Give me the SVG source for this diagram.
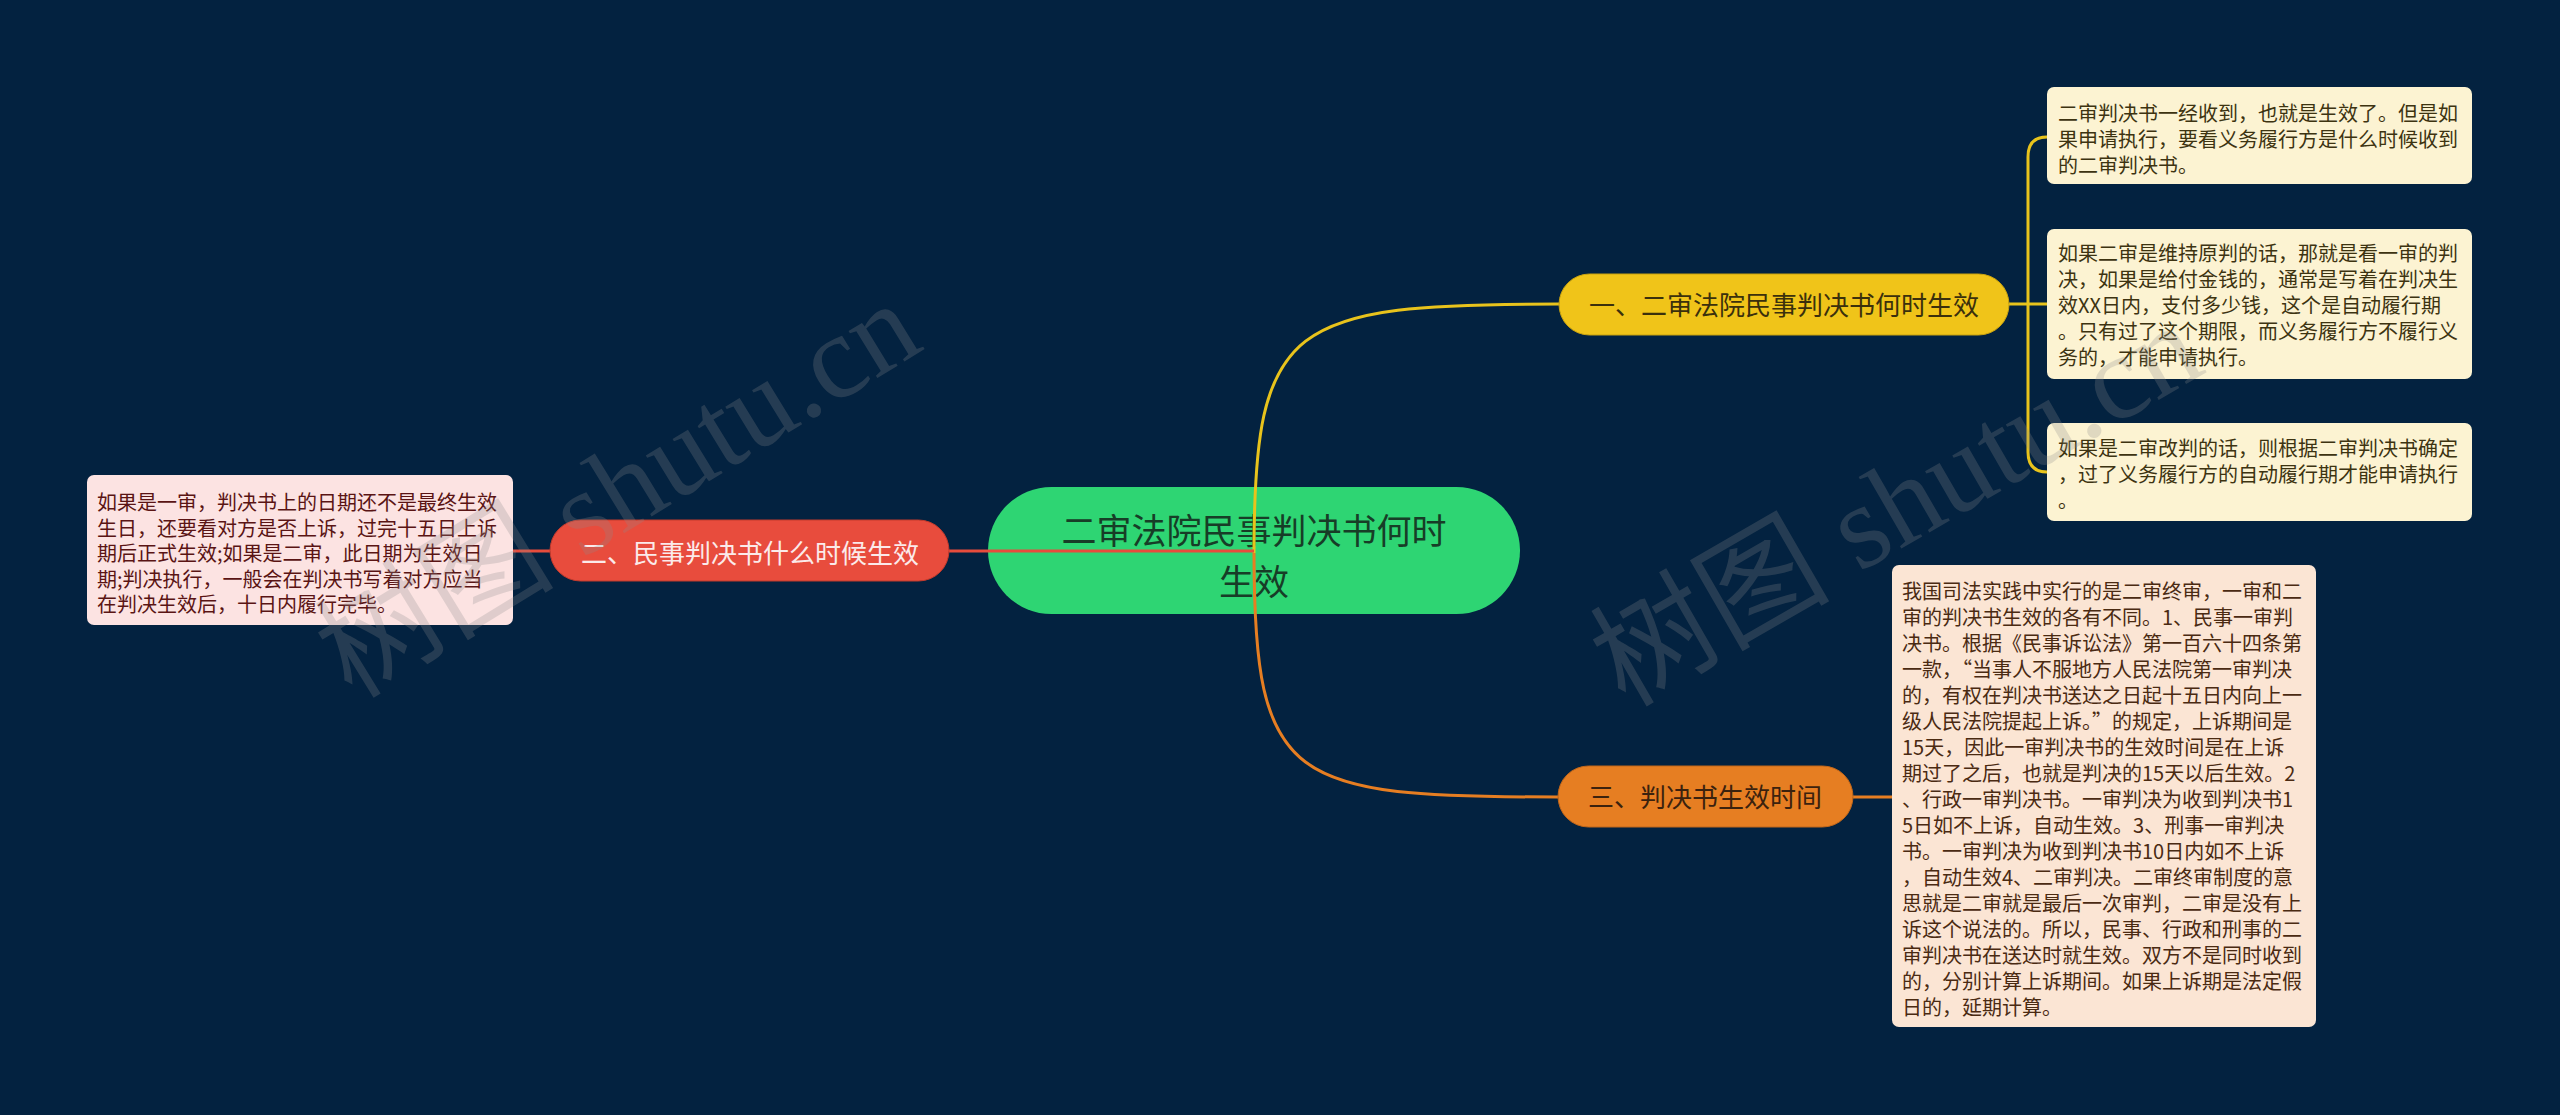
<svg xmlns="http://www.w3.org/2000/svg" width="2560" height="1115" viewBox="0 0 2560 1115">
<style>
.cjk{font-family:"Noto Sans CJK SC","Noto Sans",sans-serif;}
.root{font-size:35px;fill:#173d27;}
.br{font-size:26px;}
.leaf{font-size:20px;}
.conn{fill:none;stroke-width:3;}
.wm{font-family:"Liberation Serif","Noto Sans CJK SC",serif;font-size:120px;fill:#8c8c8c;opacity:0.25;}
</style>
<rect width="2560" height="1115" fill="#032240"/>
<g id="root">
<rect x="988" y="487" width="532" height="127" rx="63.5" fill="#2ed573"/>
<text class="cjk root" text-anchor="middle" dominant-baseline="central"><tspan x="1254" y="528">二审法院民事判决书何时</tspan><tspan x="1254" y="579">生效</tspan></text>
</g>
<g id="connectors">
<path class="conn" stroke="#e8c31c" d="M1254 553 C1254 320 1290 304 1559 304"/>
<path class="conn" stroke="#e67e22" d="M1254 553 C1254 785 1290 797 1558 797"/>
<path class="conn" stroke="#e74c3c" d="M949 551 H1254"/>
<path class="conn" stroke="#e74c3c" d="M513 551 H550"/>
<path class="conn" stroke="#e8c31c" d="M2009 304 H2047 M2028 304 V157 Q2028 137 2047 137 M2028 304 V452 Q2028 472 2047 472"/>
<path class="conn" stroke="#e67e22" d="M1853 797 H1892"/>
</g>
<g id="branch1">
<rect x="1559" y="274" width="450" height="61" rx="30.5" fill="#f0c419" stroke="#c9a20f" stroke-width="1"/>
<text class="cjk br" x="1784" y="303" text-anchor="middle" dominant-baseline="central" fill="#3b300c">一、二审法院民事判决书何时生效</text>
</g>
<g id="branch2">
<rect x="550" y="520" width="399" height="61" rx="30.5" fill="#e84c3d" stroke="#c23a2c" stroke-width="1"/>
<text class="cjk br" x="750" y="551" text-anchor="middle" dominant-baseline="central" fill="#fbeaea">二、民事判决书什么时候生效</text>
</g>
<g id="branch3">
<rect x="1558" y="766" width="295" height="61" rx="30.5" fill="#e67e22" stroke="#c0661a" stroke-width="1"/>
<text class="cjk br" x="1705" y="795" text-anchor="middle" dominant-baseline="central" fill="#3b220e">三、判决书生效时间</text>
</g>
<g id="leaf1a">
<rect x="2047" y="87" width="425" height="97" rx="7" fill="#fcf3d2"/>
<text class="cjk leaf" dominant-baseline="central" fill="#3d3311"><tspan x="2058" y="112">二审判决书一经收到，也就是生效了。但是如</tspan><tspan x="2058" y="138">果申请执行，要看义务履行方是什么时候收到</tspan><tspan x="2058" y="164">的二审判决书。</tspan></text>
</g>
<g id="leaf1b">
<rect x="2047" y="229" width="425" height="150" rx="7" fill="#fcf3d2"/>
<text class="cjk leaf" dominant-baseline="central" fill="#3d3311"><tspan x="2058" y="252">如果二审是维持原判的话，那就是看一审的判</tspan><tspan x="2058" y="278">决，如果是给付金钱的，通常是写着在判决生</tspan><tspan x="2058" y="304">效XX日内，支付多少钱，这个是自动履行期</tspan><tspan x="2058" y="330">。只有过了这个期限，而义务履行方不履行义</tspan><tspan x="2058" y="356">务的，才能申请执行。</tspan></text>
</g>
<g id="leaf1c">
<rect x="2047" y="423" width="425" height="98" rx="7" fill="#fcf3d2"/>
<text class="cjk leaf" dominant-baseline="central" fill="#3d3311"><tspan x="2058" y="447">如果是二审改判的话，则根据二审判决书确定</tspan><tspan x="2058" y="473">，过了义务履行方的自动履行期才能申请执行</tspan><tspan x="2058" y="499">。</tspan></text>
</g>
<g id="leaf2">
<rect x="87" y="475" width="426" height="150" rx="7" fill="#fce3e2"/>
<text class="cjk leaf" dominant-baseline="central" fill="#5a1414"><tspan x="97" y="501">如果是一审，判决书上的日期还不是最终生效</tspan><tspan x="97" y="526.5">生日，还要看对方是否上诉，过完十五日上诉</tspan><tspan x="97" y="552">期后正式生效;如果是二审，此日期为生效日</tspan><tspan x="97" y="577.5">期;判决执行，一般会在判决书写着对方应当</tspan><tspan x="97" y="603">在判决生效后，十日内履行完毕。</tspan></text>
</g>
<g id="leaf3">
<rect x="1892" y="565" width="424" height="462" rx="7" fill="#fbe5d4"/>
<text class="cjk leaf" dominant-baseline="central" fill="#4a2a12"><tspan x="1902" y="590">我国司法实践中实行的是二审终审，一审和二</tspan><tspan x="1902" y="616">审的判决书生效的各有不同。1、民事一审判</tspan><tspan x="1902" y="642">决书。根据《民事诉讼法》第一百六十四条第</tspan><tspan x="1902" y="668">一款，“当事人不服地方人民法院第一审判决</tspan><tspan x="1902" y="694">的，有权在判决书送达之日起十五日内向上一</tspan><tspan x="1902" y="720">级人民法院提起上诉。”的规定，上诉期间是</tspan><tspan x="1902" y="746">15天，因此一审判决书的生效时间是在上诉</tspan><tspan x="1902" y="772">期过了之后，也就是判决的15天以后生效。2</tspan><tspan x="1902" y="798">、行政一审判决书。一审判决为收到判决书1</tspan><tspan x="1902" y="824">5日如不上诉，自动生效。3、刑事一审判决</tspan><tspan x="1902" y="850">书。一审判决为收到判决书10日内如不上诉</tspan><tspan x="1902" y="876">，自动生效4、二审判决。二审终审制度的意</tspan><tspan x="1902" y="902">思就是二审就是最后一次审判，二审是没有上</tspan><tspan x="1902" y="928">诉这个说法的。所以，民事、行政和刑事的二</tspan><tspan x="1902" y="954">审判决书在送达时就生效。双方不是同时收到</tspan><tspan x="1902" y="980">的，分别计算上诉期间。如果上诉期是法定假</tspan><tspan x="1902" y="1006">日的，延期计算。</tspan></text>
</g>
<text class="wm" transform="translate(352 700) rotate(-31.5)">树图 shutu.cn</text>
<text class="wm" transform="translate(1625 708) rotate(-30)">树图 shutu.cn</text>
</svg>
